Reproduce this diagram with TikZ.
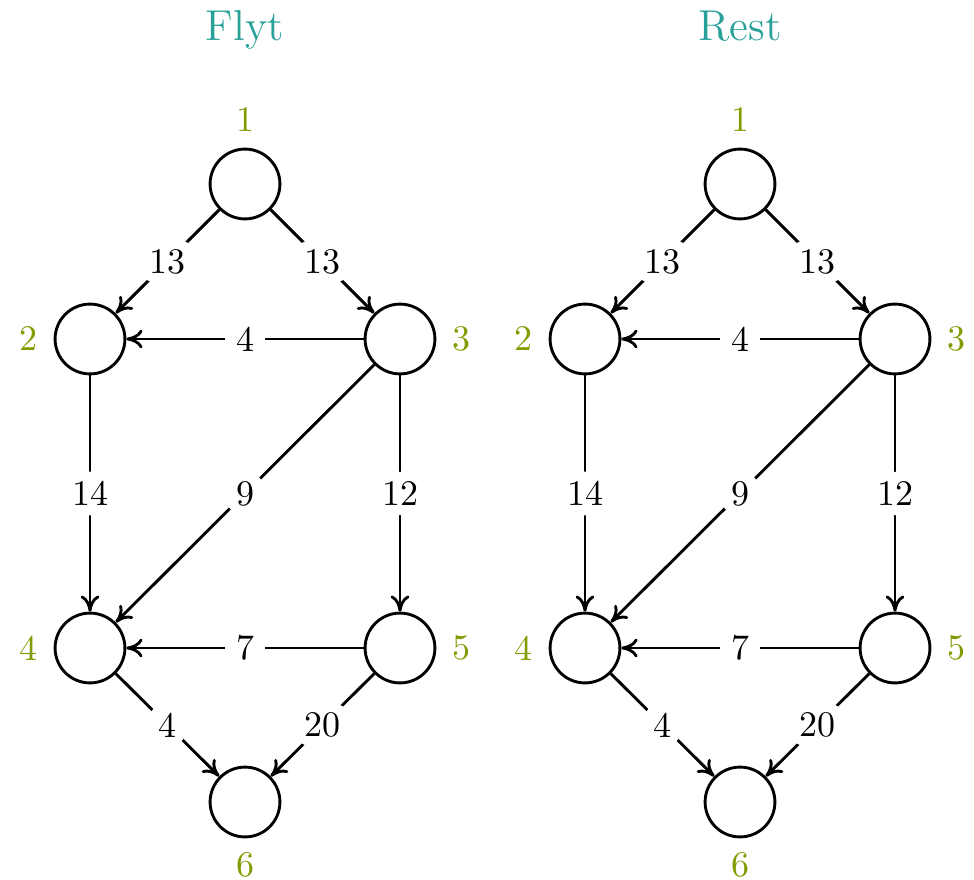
\documentclass[tikz,border=0pt]{standalone}
\usetikzlibrary{arrows.meta}
\definecolor{titlecol}{HTML}{2AA198}
\definecolor{numcol}{HTML}{859900}
\tikzset{
  vertex/.style={circle, draw, thick, minimum size=19.4pt, inner sep=0pt},
  flow/.style={thick, -{Computer Modern Rightarrow[length=4.5pt, width=5.2pt]}},
  wt/.style={fill=white, text=black, rounded corners=5.5pt, inner xsep=3pt, inner ysep=2.7pt},
  vnum/.style={text=numcol},
}
% One flow network; #1 = name prefix, #2 = horizontal shift, #3 = heading
\newcommand\network[3]{%
  \begin{scope}[shift={(#2,0)}]
    \node[anchor=base, text=titlecol, font=\large] (#1t) at (245,41) {#3};
    \node[vertex, label={[vnum, label distance=1pt]above:1}] (#1a) at (245,184) {};
    \node[vertex, label={[vnum, label distance=1pt]left:2}]  (#1b) at (90,339) {};
    \node[vertex, label={[vnum, label distance=1pt]right:3}] (#1c) at (400,339) {};
    \node[vertex, label={[vnum, label distance=1pt]left:4}]  (#1d) at (90,648) {};
    \node[vertex, label={[vnum, label distance=1pt]right:5}] (#1e) at (400,648) {};
    \node[vertex, label={[vnum, label distance=0.5pt]below:6}] (#1f) at (245,802) {};
    \draw[flow] (#1a) -- node[wt] {13} (#1b);
    \draw[flow] (#1a) -- node[wt] {13} (#1c);
    \draw[flow] (#1c) -- node[wt] {4}  (#1b);
    \draw[flow] (#1b) -- node[wt] {14} (#1d);
    \draw[flow] (#1c) -- node[wt] {9}  (#1d);
    \draw[flow] (#1c) -- node[wt] {12} (#1e);
    \draw[flow] (#1e) -- node[wt] {7}  (#1d);
    \draw[flow] (#1d) -- node[wt] {4}  (#1f);
    \draw[flow] (#1e) -- node[wt] {20} (#1f);
  \end{scope}}
\begin{document}
\begin{tikzpicture}[x=0.27778pt, y=-0.27778pt]
  \useasboundingbox (0,0) rectangle (974,879);
  \network{L}{0}{Flyt}
  \network{R}{495}{Rest}
\end{tikzpicture}
\end{document}
